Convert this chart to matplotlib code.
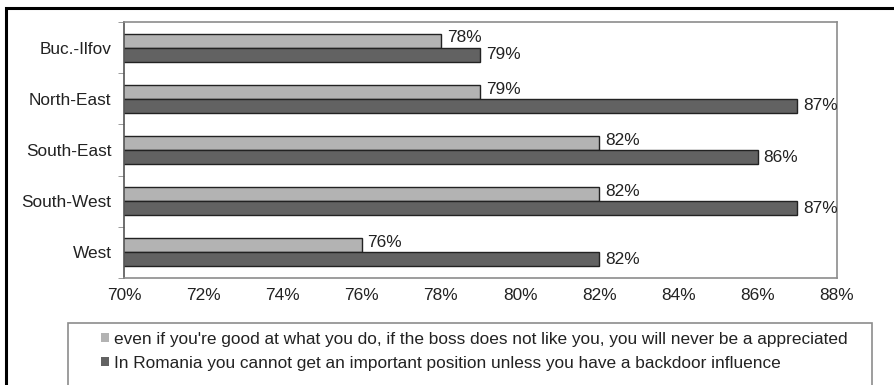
import matplotlib
matplotlib.use("Agg")
import matplotlib.pyplot as plt
from matplotlib.patches import Patch, Rectangle
from matplotlib.ticker import MultipleLocator, FuncFormatter
import numpy as np

plt.rcParams["font.family"] = ["Liberation Sans", "DejaVu Sans"]

regions = ["Buc.-Ilfov", "North-East", "South-East", "South-West", "West"]
appreciated = [78, 79, 82, 82, 76]
backdoor = [79, 87, 86, 87, 82]
series_labels = [
    "even if you're good at what you do, if the boss does not like you, you will never be a appreciated",
    "In Romania you cannot get an important position unless you have a backdoor influence",
]

light = "#b3b3b3"
dark = "#626262"
frame_gray = "#8c8c8c"
text_color = "#222222"
fs = 12.4

fig = plt.figure(figsize=(8.95, 3.85), dpi=100)
ax = fig.add_axes([124 / 895, 107 / 385, (837 - 124) / 895, (278 - 22) / 385])

y = np.arange(len(regions))
h = 0.275
ax.barh(y - h / 2, appreciated, height=h, left=0, color=light,
        edgecolor="#222222", linewidth=1.0, zorder=2)
ax.barh(y + h / 2, backdoor, height=h, left=0, color=dark,
        edgecolor="#222222", linewidth=1.0, zorder=2)

for yi, v in zip(y, appreciated):
    ax.text(v + 0.15, yi - h / 2 - 0.05, f"{v}%", va="center", ha="left",
            fontsize=fs, color=text_color)
for yi, v in zip(y, backdoor):
    ax.text(v + 0.15, yi + h / 2, f"{v}%", va="center", ha="left",
            fontsize=fs, color=text_color, clip_on=False)

ax.set_xlim(70, 88)
ax.set_ylim(len(regions) - 0.5, -0.5)
ax.xaxis.set_major_locator(MultipleLocator(2))
ax.xaxis.set_major_formatter(FuncFormatter(lambda v, p: f"{v:.0f}%"))
ax.set_yticks(y)
ax.set_yticklabels(regions)
ax.set_yticks(np.arange(-0.5, len(regions), 1), minor=True)
ax.tick_params(axis="y", which="major", length=0, pad=9, labelsize=fs,
               labelcolor=text_color)
ax.tick_params(axis="y", which="minor", length=4, color=frame_gray, direction="out")
ax.tick_params(axis="x", length=0, pad=7, labelsize=fs, labelcolor=text_color)
for side in ["top", "right", "bottom", "left"]:
    ax.spines[side].set_color(frame_gray)
    ax.spines[side].set_linewidth(1.2)
ax.spines["left"].set_color("#555555")

# outer chart border
fig.add_artist(Rectangle((6 / 895, -0.05), 1.1, (385 - 8) / 385 + 0.05,
                         transform=fig.transFigure, fill=False,
                         edgecolor="black", linewidth=2.2, clip_on=False))

# legend box
fig.add_artist(Rectangle((68 / 895, -0.05), (872 - 68) / 895, (385 - 323) / 385 + 0.05,
                         transform=fig.transFigure, fill=False,
                         edgecolor=frame_gray, linewidth=1.2, clip_on=False))

handles = [Patch(facecolor=light, edgecolor="none"),
           Patch(facecolor=dark, edgecolor="none")]
fig.legend(handles, series_labels, loc="upper left",
           bbox_to_anchor=(101 / 895, (385 - 332) / 385), frameon=False,
           fontsize=fs, handlelength=0.45, handleheight=0.45,
           handletextpad=0.3, labelspacing=0.5, borderaxespad=0,
           borderpad=0, labelcolor=text_color)

fig.savefig("out.png", dpi=100)
